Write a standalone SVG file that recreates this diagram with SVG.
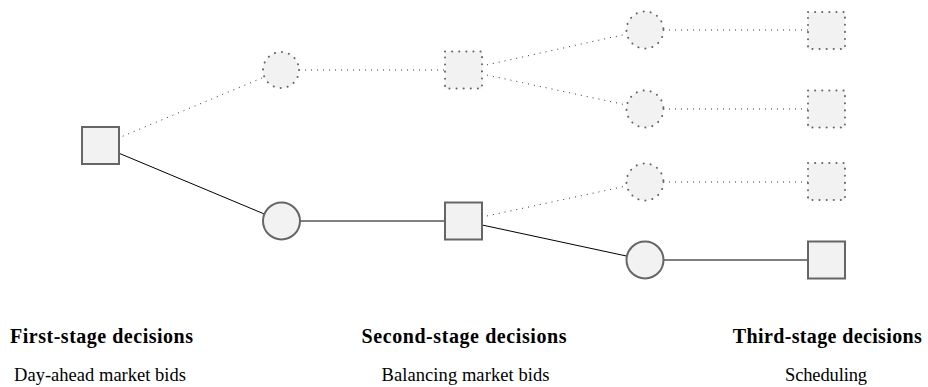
<svg xmlns="http://www.w3.org/2000/svg" width="928" height="387" viewBox="0 0 928 387">
<style>
.n{fill:#f2f2f2;stroke:#666;stroke-width:2}
.d{fill:#f2f2f2;stroke:#666;stroke-width:2;stroke-dasharray:0.1 7;stroke-linecap:round}
.e{stroke:#000;stroke-width:1;fill:none}
.ed{stroke:#333;stroke-width:1;fill:none;stroke-dasharray:1 5}
.t{font-family:"Liberation Serif",serif;font-size:20px;font-weight:bold;fill:#000;text-anchor:middle}
.s{font-family:"Liberation Serif",serif;font-size:18.5px;fill:#000;text-anchor:middle}
</style>
<g id="connectors">
<line class="ed" x1="100.5" y1="145.5" x2="281" y2="70"/>
<line class="e" x1="100.5" y1="145.5" x2="281" y2="221"/>
<line class="ed" x1="281" y1="70" x2="463.5" y2="70"/>
<line class="e" x1="281" y1="221" x2="463.5" y2="221"/>
<line class="ed" x1="463.5" y1="70" x2="645" y2="30"/>
<line class="ed" x1="463.5" y1="70" x2="645" y2="109"/>
<line class="ed" x1="463.5" y1="221" x2="645" y2="182"/>
<line class="e" x1="463.5" y1="221" x2="645" y2="260"/>
<line class="ed" x1="645" y1="30" x2="826.5" y2="30"/>
<line class="ed" x1="645" y1="109" x2="826.5" y2="109"/>
<line class="ed" x1="645" y1="182" x2="826.5" y2="182"/>
<line class="e" x1="645" y1="260" x2="826.5" y2="260"/>
</g>
<g id="s1"><rect class="n" x="82" y="127" width="37" height="37"/></g>
<g id="c1a"><circle class="d" cx="281" cy="70" r="18"/></g>
<g id="c1b"><circle class="n" cx="281.5" cy="221" r="18.5"/></g>
<g id="s2a"><rect class="d" x="445" y="51.5" width="37" height="37"/></g>
<g id="s2b"><rect class="n" x="445" y="202.5" width="37" height="37"/></g>
<g id="c2a"><circle class="d" cx="645" cy="30" r="18.5"/></g>
<g id="c2b"><circle class="d" cx="645" cy="109" r="18.5"/></g>
<g id="c2c"><circle class="d" cx="645" cy="182" r="18.5"/></g>
<g id="c2d"><circle class="n" cx="645" cy="260" r="18.5"/></g>
<g id="s3a"><rect class="d" x="808" y="12" width="37" height="37"/></g>
<g id="s3b"><rect class="d" x="808" y="90.5" width="37" height="37"/></g>
<g id="s3c"><rect class="d" x="808" y="163" width="37" height="37"/></g>
<g id="s3d"><rect class="n" x="808" y="241.5" width="37" height="37"/></g>
<g id="labels">
<text class="t" x="101.5" y="342.5" textLength="183" lengthAdjust="spacing">First-stage decisions</text>
<text class="s" x="100" y="380.5" textLength="172" lengthAdjust="spacing">Day-ahead market bids</text>
<text class="t" x="464" y="342.5" textLength="205" lengthAdjust="spacing">Second-stage decisions</text>
<text class="s" x="465.5" y="380.5" textLength="168" lengthAdjust="spacing">Balancing market bids</text>
<text class="t" x="827.3" y="342.5" textLength="189" lengthAdjust="spacing">Third-stage decisions</text>
<text class="s" x="826" y="380.5" textLength="82" lengthAdjust="spacing">Scheduling</text>
</g>
</svg>
